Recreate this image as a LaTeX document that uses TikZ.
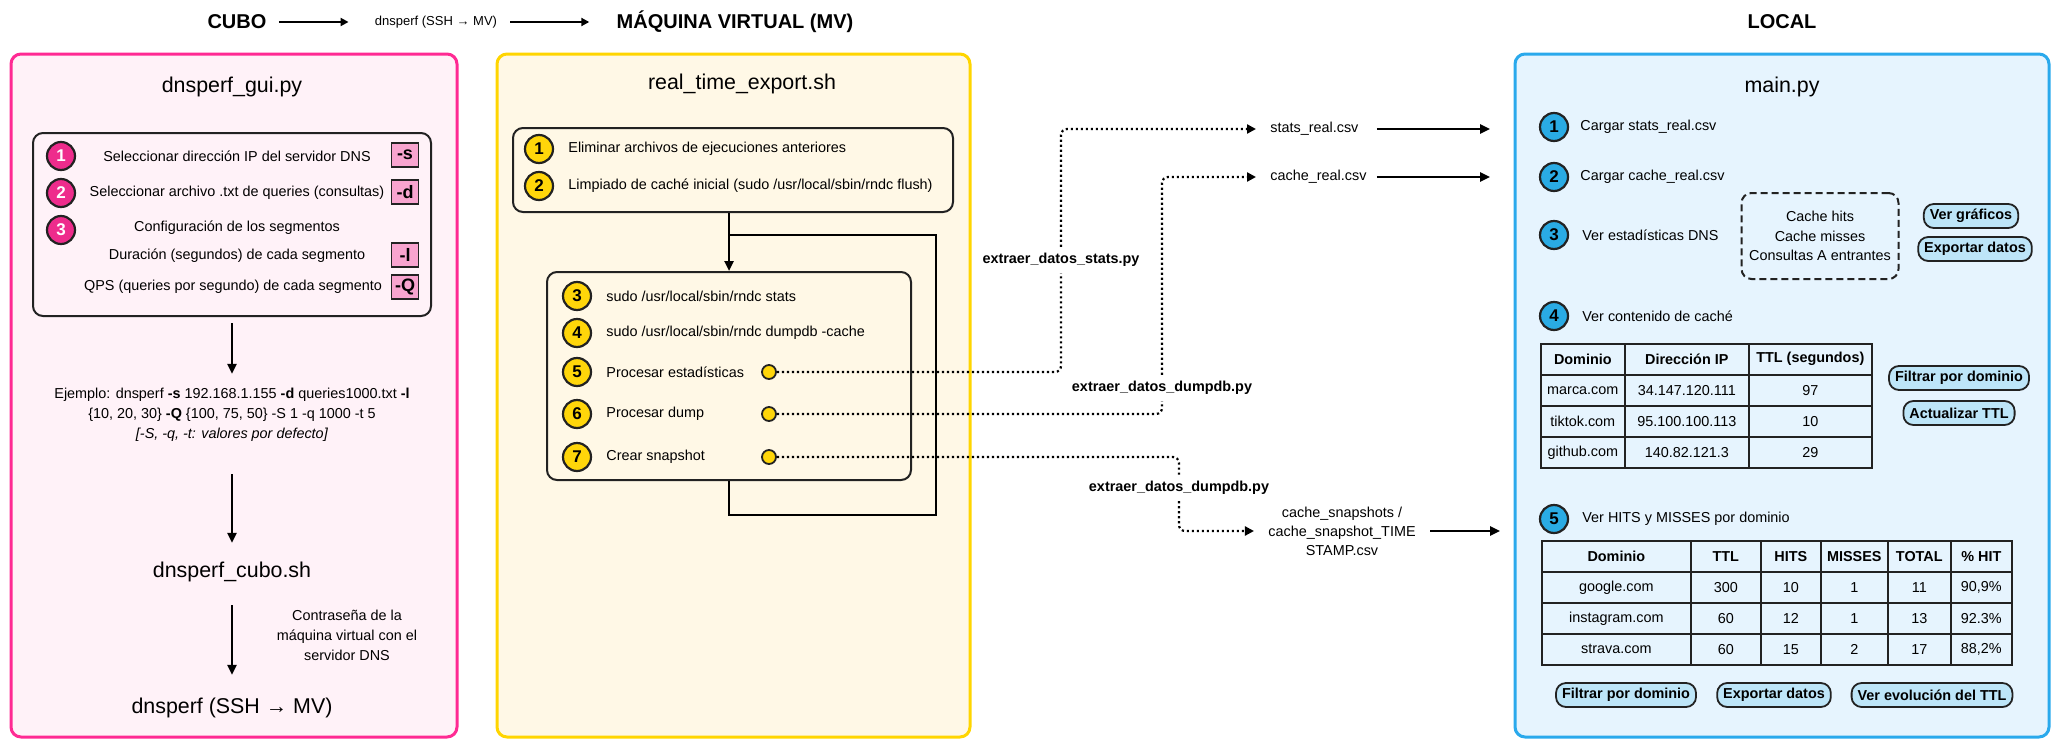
\documentclass[tikz,border=0pt]{standalone}
\usepackage{fontspec}
\setmainfont{Liberation Sans}
\usetikzlibrary{arrows.meta,positioning,matrix}

\definecolor{pinkline}{HTML}{FF2A93}
\definecolor{pinkfill}{HTML}{FFF2F8}
\definecolor{pinkdot}{HTML}{EE2C8C}
\definecolor{pinkopt}{HTML}{F8A4CF}
\definecolor{yelline}{HTML}{FFD500}
\definecolor{yelfill}{HTML}{FFF8E6}
\definecolor{yeldot}{HTML}{FFD60A}
\definecolor{blueline}{HTML}{2AA9EC}
\definecolor{bluefill}{HTML}{E6F4FE}
\definecolor{bluedot}{HTML}{2AABE4}
\definecolor{bluebtn}{HTML}{BDE5F8}
\definecolor{ink}{HTML}{222222}

\newcommand{\titlefont}{\fontsize{10.7}{13}\selectfont}
\newcommand{\itemfont}{\fontsize{7.2}{10}\selectfont}
\newcommand{\headfont}{\fontsize{10}{12}\selectfont\bfseries}

\begin{document}
\begin{tikzpicture}[x=0.5pt,y=-0.5pt,
    panel/.style={line width=1.5pt, rounded corners=5pt},
    title/.style={font=\titlefont},
    head/.style={font=\headfont, inner sep=0pt},
    item/.style={font=\itemfont, inner sep=1pt},
    box/.style={draw=ink, line width=1pt, rounded corners=5pt},
    num/.style={circle, draw=ink, line width=1.1pt, minimum size=14pt, inner sep=0pt, font=\fontsize{8.5}{10}\selectfont\bfseries},
    pnum/.style={num, fill=pinkdot, text=white},
    ynum/.style={num, fill=yeldot},
    bnum/.style={num, fill=bluedot},
    opt/.style={draw=ink, fill=pinkopt, line width=0.8pt, minimum width=13.5pt, minimum height=12pt, inner sep=0pt, font=\fontsize{9}{10}\selectfont\bfseries},
    outdot/.style={circle, draw=ink, fill=yeldot, line width=0.9pt, minimum size=7pt, inner sep=0pt},
    arr/.style={line width=1.2pt, -{Triangle[length=5pt,width=4.5pt]}},
    harr/.style={line width=1pt, -{Triangle[length=4pt,width=4pt]}},
    dotarr/.style={line width=1.1pt, dash pattern=on 1.1pt off 1.4pt, rounded corners=3pt, -{Triangle[length=4.5pt,width=4.5pt]}},
    lbl/.style={font=\itemfont\bfseries, inner sep=3pt},
    file/.style={font=\itemfont, inner sep=1pt},
    btn/.style={draw=ink, fill=bluebtn, line width=0.9pt, rounded corners=5pt, minimum height=12pt, inner xsep=3pt, inner ysep=0pt, font=\itemfont\bfseries},
    tbl/.style={matrix of nodes, inner sep=0pt, outer sep=0pt, line width=0.8pt, column sep=-\pgflinewidth, row sep=-\pgflinewidth,
        nodes={draw=ink, minimum height=15.5pt, inner sep=0pt, font=\itemfont, anchor=center},
        row 1/.style={nodes={font=\itemfont\bfseries}}}
    ]
    \useasboundingbox (0,0) rectangle (2060,739);
    % paneles
    \draw[panel, draw=pinkline, fill=pinkfill] (11,54) rectangle (457,737);
    \draw[panel, draw=yelline, fill=yelfill] (497,54) rectangle (970,737);
    \draw[panel, draw=blueline, fill=bluefill] (1515,54) rectangle (2049,737);

    % cabecera
    \node[head] (cubo) at (237,22) {CUBO};
    \node[font=\fontsize{6.5}{8}\selectfont, inner sep=0pt] (ssh) at (436,22) {dnsperf (SSH → MV)};
    \node[head] (mv) at (735,22) {MÁQUINA VIRTUAL (MV)};
    \node[head] (local) at (1782,22) {LOCAL};
    \draw[harr, shorten <=6pt, shorten >=13pt] (cubo) -- (ssh);
    \draw[harr, shorten <=6.5pt, shorten >=13.5pt] (ssh) -- (mv);

    % CUBO
    \node[title] (gui) at (232,87) {dnsperf\_gui.py};
    \node[box, minimum width=199pt, minimum height=91.5pt] (guibox) at (232,224.5) {};
    \node[pnum] (g1) at (61,156) {1};
    \node[pnum] (g2) at (61,193) {2};
    \node[pnum] (g3) at (61,230) {3};
    \node[item] (g1t) at (237,156) {Seleccionar dirección IP del servidor DNS};
    \node[item] (g2t) at (237,193) {Seleccionar archivo .txt de queries (consultas)};
    \node[item] (g3t) at (237,228) {Configuración de los segmentos};
    \node[item] (g4t) at (237,256) {Duración (segundos) de cada segmento};
    \node[item] (g5t) at (233,287) {QPS (queries por segundo) de cada segmento};
    \node[opt] (os) at (405,155) {-s};
    \node[opt] (od) at (405,192) {-d};
    \node[opt] (ol) at (405,255) {-l};
    \node[opt] (oq) at (405,287) {-Q};
    \node[item, align=center] (ej) at (232,415) {Ejemplo: dnsperf \textbf{-s} 192.168.1.155 \textbf{-d} queries1000.txt \textbf{-l}\\\{10, 20, 30\} \textbf{-Q} \{100, 75, 50\} -S 1 -q 1000 -t 5\\\textit{[-S, -q, -t: valores por defecto]}};
    \node[title] (cubosh) at (232,572) {dnsperf\_cubo.sh};
    \node[title] (sshmv) at (232,708) {dnsperf (SSH → MV)};
    \node[item, align=center] (pw) at (347,635) {Contraseña de la\\máquina virtual con el\\servidor DNS};
    \draw[arr, shorten <=3pt, shorten >=6pt] (guibox) -- (ej);
    \draw[arr, shorten <=15pt, shorten >=6pt] (ej) -- (cubosh);
    \draw[arr, shorten <=8pt, shorten >=8pt] (cubosh) -- (sshmv);

    % MV
    \node[title] (rte) at (742,84) {real\_time\_export.sh};
    \node[box, minimum width=220pt, minimum height=42pt] (ini) at (733,170) {};
    \node[ynum] (y1) at (539,149) {1};
    \node[ynum] (y2) at (539,186) {2};
    \node[item, anchor=west] (y1t) at (566,149) {Eliminar archivos de ejecuciones anteriores};
    \node[item, anchor=west] (y2t) at (566,186) {Limpiado de caché inicial (sudo /usr/local/sbin/rndc flush)};
    \node[box, minimum width=182pt, minimum height=104pt] (bucle) at (729,376) {};
    \node[ynum] (y3) at (577,296) {3};
    \node[ynum] (y4) at (577,333) {4};
    \node[ynum] (y5) at (577,372) {5};
    \node[ynum] (y6) at (577,414) {6};
    \node[ynum] (y7) at (577,457) {7};
    \node[item, anchor=west] (y3t) at (604,296) {sudo /usr/local/sbin/rndc stats};
    \node[item, anchor=west] (y4t) at (604,333) {sudo /usr/local/sbin/rndc dumpdb -cache};
    \node[item, anchor=west] (y5t) at (604,372) {Procesar estadísticas};
    \node[item, anchor=west] (y6t) at (604,414) {Procesar dump};
    \node[item, anchor=west] (y7t) at (604,457) {Crear snapshot};
    \node[outdot] (d5) at (769,372) {};
    \node[outdot] (d6) at (769,414) {};
    \node[outdot] (d7) at (769,457) {};
    \coordinate (lpA) at (936,515);
    \coordinate (lpB) at (936,235);
    \draw[arr] (ini.south -| bucle.north) -- (bucle.north);
    \draw[line width=1.2pt] (bucle.south) |- (lpA) -- (lpB) -- (lpB -| bucle.north);

    % ficheros exportados
    \node[lbl] (xs) at (1061,260) {extraer\_datos\_stats.py};
    \node[lbl] (xd1) at (1162,388) {extraer\_datos\_dumpdb.py};
    \node[lbl] (xd2) at (1179,488) {extraer\_datos\_dumpdb.py};
    \node[file, anchor=west, text width=50pt] (fstats) at (1268,129) {stats\_real.csv};
    \node[file, anchor=west, text width=50pt] (fcache) at (1268,177) {cache\_real.csv};
    \node[file, align=center, font=\fontsize{7.2}{9.5}\selectfont] (fsnap) at (1342,531) {cache\_snapshots /\\cache\_snapshot\_TIME\\STAMP.csv};
    \draw[dotarr, shorten >=6pt] (d5) -| (xs) |- (fstats);
    \draw[dotarr, shorten >=6pt] (d6) -| (xd1) |- (fcache);
    \draw[dotarr, shorten >=6pt] (d7) -| (xd2) |- (fsnap);
    \coordinate (inS) at (1490,129);
    \coordinate (inC) at (1490,177);
    \coordinate (inN) at (1500,531);
    \draw[arr, shorten <=2pt] (fstats) -- (inS);
    \draw[arr, shorten <=2pt] (fcache) -- (inC);
    \draw[arr, shorten <=6pt] (fsnap) -- (inN);

    % LOCAL
    \node[title] (mainpy) at (1782,87) {main.py};
    \node[bnum] (b1) at (1554,127) {1};
    \node[bnum] (b2) at (1554,177) {2};
    \node[bnum] (b3) at (1554,235) {3};
    \node[bnum] (b4) at (1554,316) {4};
    \node[bnum] (b5) at (1554,519) {5};
    \node[item, anchor=west] (b1t) at (1578,127) {Cargar stats\_real.csv};
    \node[item, anchor=west] (b2t) at (1578,177) {Cargar cache\_real.csv};
    \node[item, anchor=west] (b3t) at (1580,235) {Ver estadísticas DNS};
    \node[item, anchor=west] (b4t) at (1580,316) {Ver contenido de caché};
    \node[item, anchor=west] (b5t) at (1580,519) {Ver HITS y MISSES por dominio};
    \node[draw=ink, dash pattern=on 3.5pt off 2pt, line width=1pt, rounded corners=5pt, minimum width=78.5pt, minimum height=43pt, align=center, font=\fontsize{7.2}{9.75}\selectfont] (dnsst) at (1820,236) {Cache hits\\Cache misses\\Consultas A entrantes};
    \node[btn] (bgraf) at (1971,216) {Ver gráficos};
    \node[btn] (bexp) at (1975,249) {Exportar datos};
    \node[btn] (bfil) at (1959,378) {Filtrar por dominio};
    \node[btn] (bttl) at (1959,413) {Actualizar TTL};
    \node[btn] (bfil2) at (1626,695) {Filtrar por dominio};
    \node[btn] (bexp2) at (1774,695) {Exportar datos};
    \node[btn] (bevo) at (1932,695) {Ver evolución del TTL};

    \matrix[tbl, anchor=north west,
        column 1/.style={nodes={minimum width=42pt}},
        column 2/.style={nodes={minimum width=62pt}},
        column 3/.style={nodes={minimum width=61.5pt}}] (tcache) at (1540,343) {
        Dominio & Dirección IP & TTL (segundos) \\
        marca.com & 34.147.120.111 & 97 \\
        tiktok.com & 95.100.100.113 & 10 \\
        github.com & 140.82.121.3 & 29 \\
    };
    \matrix[tbl, anchor=north west,
        column 1/.style={nodes={minimum width=74.5pt}},
        column 2/.style={nodes={minimum width=35pt}},
        column 3/.style={nodes={minimum width=30pt}},
        column 4/.style={nodes={minimum width=33.5pt}},
        column 5/.style={nodes={minimum width=31.5pt}},
        column 6/.style={nodes={minimum width=30.5pt}}] (thits) at (1541,540) {
        Dominio & TTL & HITS & MISSES & TOTAL & \% HIT \\
        google.com & 300 & 10 & 1 & 11 & 90,9\% \\
        instagram.com & 60 & 12 & 1 & 13 & 92.3\% \\
        strava.com & 60 & 15 & 2 & 17 & 88,2\% \\
    };
\end{tikzpicture}
\end{document}
